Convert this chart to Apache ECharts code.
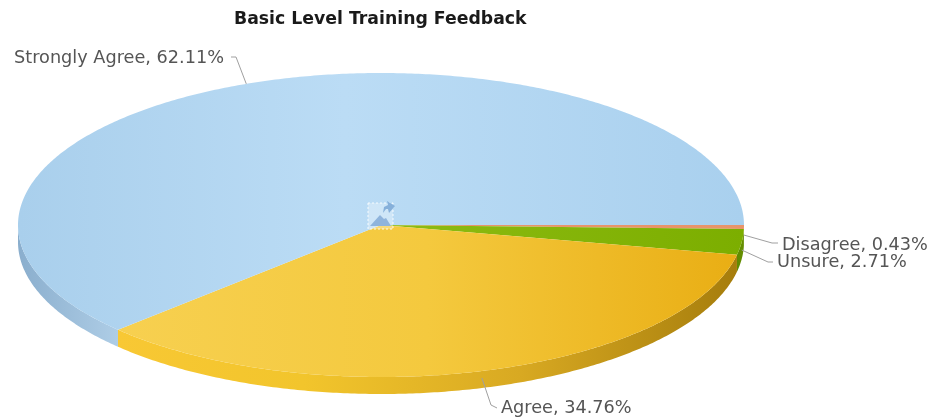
<!DOCTYPE html>
<html>
<head>
<meta charset="utf-8">
<style>html,body{margin:0;padding:0;background:#fff}#c{width:940px;height:419px}</style>
<script src="https://cdn.jsdelivr.net/npm/echarts@6/dist/echarts.min.js"></script>
</head>
<body>
<div id="c"></div>
<script>
// Data, in drawing order, clockwise from 3 o'clock
var categories = ['Disagree', 'Unsure', 'Agree', 'Strongly Agree'];
var shares = [0.43, 2.71, 34.76, 62.11];
var chartTitle = 'Basic Level Training Feedback';

// Appearance
var pie = { cx: 381, cy: 225, rx: 363, ry: 152, depth: 17 };
var topStops = [
  [[0, '#e8946a'], [1, '#e8946a']],
  [[0, '#8dbb12'], [1, '#7cae00']],
  [[0, '#f7d050'], [0.5, '#f4c93e'], [1, '#e9ae14']],
  [[0, '#a9cfec'], [0.45, '#bbdcf5'], [1, '#a9d0ee']]
];
var wallStops = [
  [[0, '#c8794f'], [1, '#c8794f']],
  [[0, '#5f8a00'], [1, '#668f00']],
  [[0, '#f8c834'], [0.3, '#f2c52c'], [0.65, '#d8a922'], [1, '#a67d0c']],
  [[0, '#8aaecd'], [1, '#aecde6']]
];
// label anchor: [elbow x, elbow y, end x, end y, text x, text y, text align]
var labelLayout = [
  [772, 243, 778, 243, 782, 245, 'left'],
  [768, 262, 773, 262, 777, 262, 'left'],
  [491, 405, 497, 408, 501, 408, 'left'],
  [236, 57, 231, 57, 224, 58, 'right']
];
var rimDrop = [8, 8, 7, 0];

function sliceRange(i) {
  var total = shares.reduce(function (a, b) { return a + b; }, 0);
  var before = shares.slice(0, i).reduce(function (a, b) { return a + b; }, 0);
  return [before / total * 2 * Math.PI, (before + shares[i]) / total * 2 * Math.PI];
}
function rimPoint(a, dy) {
  return [pie.cx + pie.rx * Math.cos(a), pie.cy + pie.ry * Math.sin(a) + (dy || 0)];
}
function arcPoints(a0, a1, dy) {
  var n = Math.max(2, Math.ceil((a1 - a0) / 0.01)), pts = [];
  for (var k = 0; k <= n; k++) pts.push(rimPoint(a0 + (a1 - a0) * k / n, dy));
  return pts;
}
function grad(stops) {
  return new echarts.graphic.LinearGradient(0, 0, 1, 0, stops.map(function (s) {
    return { offset: s[0], color: s[1] };
  }));
}
function renderWall(params, api) {
  var i = api.value(0), r = sliceRange(i);
  var a0 = r[0], a1 = Math.min(r[1], Math.PI);
  if (a0 >= a1) return null;
  var pts = arcPoints(a0, a1, 0).concat(arcPoints(a0, a1, pie.depth).reverse());
  return { type: 'polygon', shape: { points: pts }, style: { fill: grad(wallStops[i]) } };
}
function renderTop(params, api) {
  var i = api.value(0), r = sliceRange(i);
  var pts = [[pie.cx, pie.cy]].concat(arcPoints(r[0], r[1], 0));
  return { type: 'polygon', shape: { points: pts }, style: { fill: grad(topStops[i]) } };
}
function renderLabel(params, api) {
  var i = api.value(0), r = sliceRange(i), l = labelLayout[i];
  var start = rimPoint((r[0] + r[1]) / 2, rimDrop[i]);
  return {
    type: 'group',
    children: [
      { type: 'polyline', shape: { points: [start, [l[0], l[1]], [l[2], l[3]]] },
        style: { stroke: '#a0a0a0', lineWidth: 1, fill: 'none' } },
      { type: 'text', style: {
          x: l[4], y: l[5], text: categories[i] + ', ' + shares[i].toFixed(2) + '%',
          fill: '#555', font: '17.7px "DejaVu Sans"', align: l[6], verticalAlign: 'middle' } }
    ]
  };
}
var rows = categories.map(function (c, i) { return [i, shares[i], c]; });
var chart = echarts.init(document.getElementById('c'), null, { renderer: 'canvas' });
chart.setOption({
  animation: false,
  backgroundColor: '#fff',
  title: {
    text: chartTitle, left: 234, top: 11, padding: 0,
    textStyle: { fontFamily: 'DejaVu Sans', fontSize: 17.3, fontWeight: 'bold', color: '#1a1a1a' }
  },
  series: [
    { type: 'custom', coordinateSystem: 'none', data: rows, renderItem: renderWall, silent: true, z: 1 },
    { type: 'custom', coordinateSystem: 'none', data: rows, renderItem: renderTop, silent: true, z: 2 },
    { type: 'custom', coordinateSystem: 'none', data: rows, renderItem: renderLabel, silent: true, z: 3 }
  ],
  graphic: [
    { type: 'rect', z: 10, shape: { x: 368, y: 203, width: 25, height: 26 },
      style: { fill: 'rgba(255,255,255,0.3)', stroke: 'rgba(255,255,255,0.85)', lineWidth: 1, lineDash: [2, 2] } },
    { type: 'polygon', z: 11, shape: { points: [[370, 226], [380, 215], [384, 219], [386, 218], [391, 226]] },
      style: { fill: '#8fb4dc' } },
    { type: 'polygon', z: 11, shape: { points: [[383, 213], [384, 207], [388, 205], [387, 201], [395, 206], [389, 213], [388, 209], [386, 209]] },
      style: { fill: '#86b0da' } }
  ]
});
</script>
</body>
</html>
